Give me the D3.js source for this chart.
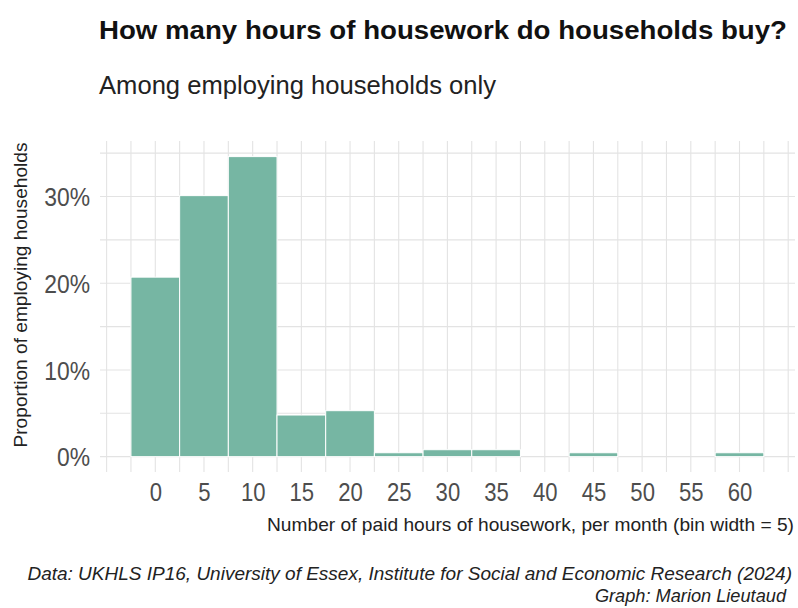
<!DOCTYPE html>
<html><head><meta charset="utf-8">
<script src="https://cdn.jsdelivr.net/npm/d3@7"></script>
<style>
html,body{margin:0;padding:0;background:#fff;}
svg{display:block;}
.narrow{font-family:"Liberation Sans Narrow","Arial Narrow","Liberation Sans",Arial,sans-serif;}
.wide{font-family:"Liberation Sans",Arial,sans-serif;}
</style>
</head><body>
<svg id="chart" width="798" height="608"></svg>
<script>
// Data
const hours = [0, 5, 10, 15, 20, 25, 30, 35, 40, 45, 50, 55, 60];
const share = [20.7, 30.1, 34.6, 4.8, 5.3, 0.45, 0.8, 0.8, 0, 0.45, 0, 0, 0.45];
const xTicks = [0, 5, 10, 15, 20, 25, 30, 35, 40, 45, 50, 55, 60];
const yTicks = [0, 10, 20, 30];
const xGrid = d3.range(-5, 65.01, 2.5);
const yGrid = [0, 5, 10, 15, 20, 25, 30, 35];
const binWidth = 5;

const titleText = "How many hours of housework do households buy?";
const subtitleText = "Among employing households only";
const xTitle = "Number of paid hours of housework, per month (bin width = 5)";
const yTitle = "Proportion of employing households";
const caption1 = "Data: UKHLS IP16, University of Essex, Institute for Social and Economic Research (2024)";
const caption2 = "Graph: Marion Lieutaud";

const svg = d3.select("#chart");
const panel = {left: 100, right: 795, top: 141, bottom: 472};

const x = d3.scaleLinear().domain([-5.68, 65.7]).range([panel.left, panel.right]);
const y = d3.scaleLinear().domain([-1.77, 36.4]).range([panel.bottom, panel.top]);

// grid
const g = svg.append("g");
g.selectAll("line.vg").data(xGrid).enter().append("line")
  .attr("x1", d => x(d)).attr("x2", d => x(d))
  .attr("y1", panel.top).attr("y2", panel.bottom)
  .attr("stroke", "#e3e3e3").attr("stroke-width", 1.1);
g.selectAll("line.hg").data(yGrid).enter().append("line")
  .attr("x1", panel.left).attr("x2", panel.right)
  .attr("y1", d => y(d)).attr("y2", d => y(d))
  .attr("stroke", "#e3e3e3").attr("stroke-width", 1.1);

// bars
const data = hours.map((h, i) => ({h, v: share[i]})).filter(d => d.v > 0);
svg.append("g").selectAll("rect").data(data).enter().append("rect")
  .attr("x", d => x(d.h - binWidth / 2))
  .attr("width", d => x(d.h + binWidth / 2) - x(d.h - binWidth / 2))
  .attr("y", d => y(d.v))
  .attr("height", d => y(0) - y(d.v))
  .attr("fill", "#76b6a3")
  .attr("stroke", "#ffffff").attr("stroke-width", 1);

function condense(sel, f) {
  sel.each(function () {
    const w = this.getComputedTextLength();
    d3.select(this).attr("textLength", w * f).attr("lengthAdjust", "spacingAndGlyphs");
  });
}
// fit a text to a target width: shrink the font if too wide, stretch slightly if too narrow
function fit(sel, target) {
  const node = sel.node();
  const fs = parseFloat(sel.attr("font-size"));
  const w = node.getComputedTextLength();
  if (w > target) {
    sel.attr("font-size", Math.floor(fs * target / w * 10) / 10);
  } else {
    sel.attr("textLength", target).attr("lengthAdjust", "spacingAndGlyphs");
  }
}

// axes (text only, as in theme_minimal)
const xAxis = d3.axisBottom(x).tickValues(xTicks).tickSize(0).tickPadding(0);
const xa = svg.append("g").attr("transform", `translate(0,${panel.bottom})`).call(xAxis);
xa.select(".domain").remove();
xa.selectAll("text").attr("class", "narrow").attr("font-size", 26).attr("fill", "#4d4d4d")
  .attr("dy", null).attr("y", 29);
condense(xa.selectAll("text"), 0.85);

const yAxis = d3.axisLeft(y).tickValues(yTicks).tickSize(0).tickPadding(0).tickFormat(d => d + "%");
const ya = svg.append("g").attr("transform", `translate(90,0)`).call(yAxis);
ya.select(".domain").remove();
ya.selectAll("text").attr("class", "narrow").attr("font-size", 26).attr("fill", "#4d4d4d")
  .attr("dy", "0.35em");
condense(ya.selectAll("text"), 0.88);

// titles
const t1 = svg.append("text").attr("class", "wide").attr("x", 99).attr("y", 39)
  .attr("font-size", 25).attr("font-weight", "bold").attr("fill", "#111").text(titleText);
fit(t1, 688);
const t2 = svg.append("text").attr("class", "wide").attr("x", 99).attr("y", 94)
  .attr("font-size", 25).attr("fill", "#222").text(subtitleText);
fit(t2, 397);

const xt = svg.append("text").attr("class", "narrow").attr("x", 794).attr("y", 531)
  .attr("text-anchor", "end").attr("font-size", 19).attr("fill", "#222").text(xTitle);
fit(xt, 527);

const yt = svg.append("text").attr("class", "narrow")
  .attr("transform", "translate(27,295) rotate(-90)")
  .attr("text-anchor", "middle").attr("font-size", 19).attr("fill", "#222").text(yTitle);
fit(yt, 305);

const c1 = svg.append("text").attr("class", "narrow").attr("x", 792).attr("y", 580)
  .attr("text-anchor", "end").attr("font-size", 20).attr("font-style", "italic").attr("fill", "#222")
  .text(caption1);
fit(c1, 768);
const c2 = svg.append("text").attr("class", "narrow").attr("x", 786).attr("y", 602)
  .attr("text-anchor", "end").attr("font-size", 20).attr("font-style", "italic").attr("fill", "#222")
  .text(caption2);
fit(c2, 192);
</script>
</body></html>
